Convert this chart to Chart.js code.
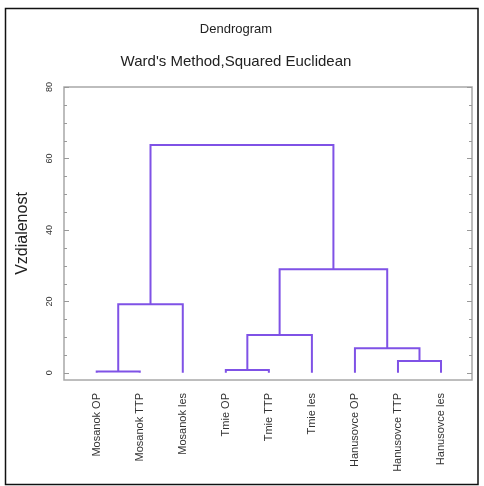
<!DOCTYPE html>
<html><head><meta charset="utf-8">
<script src="https://cdn.jsdelivr.net/npm/chart.js@4/dist/chart.umd.min.js"></script>
<style>html,body{margin:0;padding:0;background:#fff;} canvas{display:block;}</style>
</head><body>
<canvas id="c" width="484" height="486"></canvas>
<script>
const leaves = ['Mosanok OP','Mosanok TTP','Mosanok les','Tmie OP','Tmie TTP','Tmie les','Hanusovce OP','Hanusovce TTP','Hanusovce les'];
// merge steps: child node ids (0-8 leaves, 9+ = earlier merges in order) and joining distance
const mergeLeft   = [0,    3,   7,   6,   10,   9,    13,   14];
const mergeRight  = [1,    4,   8,   11,  5,    2,    12,   15];
const mergeHeight = [0.35, 0.8, 3.3, 6.9, 10.6, 19.2, 29.0, 63.8];
const yTickValues = [0, 20, 40, 60, 80];
const yMinorStep = 5;

const FONT = "'Liberation Sans', Arial, sans-serif";
const LINE = '#7f52e6';

const nodeX = leaves.map((_, i) => i + 1);
const nodeH = leaves.map(() => 0);
const datasets = mergeHeight.map((h, k) => {
  const a = mergeLeft[k], b = mergeRight[k];
  const xa = nodeX[a], xb = nodeX[b];
  const ds = {
    data: [{x: xa, y: nodeH[a]}, {x: xa, y: h}, {x: xb, y: h}, {x: xb, y: nodeH[b]}],
    showLine: true, borderColor: LINE, borderWidth: 2, pointRadius: 0, tension: 0, fill: false
  };
  nodeX.push((xa + xb) / 2); nodeH.push(h);
  return ds;
});

const framePlugin = {
  id: 'frame',
  beforeDraw(chart) {
    const ctx = chart.ctx;
    ctx.save();
    ctx.strokeStyle = '#111'; ctx.lineWidth = 1.5;
    ctx.strokeRect(5.5, 8.5, 472.5, 476);
    ctx.restore();
  },
  afterDatasetsDraw(chart) {
    const {ctx, chartArea: ca} = chart;
    const ys = chart.scales.y;
    ctx.save();
    ctx.strokeStyle = '#a8a8a8'; ctx.lineWidth = 1.5;
    ctx.strokeRect(ca.left, ca.top, ca.right - ca.left, ca.bottom - ca.top);
    ctx.lineWidth = 1; ctx.strokeStyle = '#999';
    for (let v = yTickValues[0]; v <= yTickValues[yTickValues.length - 1]; v += yMinorStep) {
      const p = Math.round(ys.getPixelForValue(v)) + 0.5;
      const len = yTickValues.includes(v) ? 5 : 3;
      ctx.beginPath();
      ctx.moveTo(ca.left, p); ctx.lineTo(ca.left + len, p);
      ctx.moveTo(ca.right, p); ctx.lineTo(ca.right - len, p);
      ctx.stroke();
    }
    ctx.fillStyle = '#333';
    ctx.font = '9px ' + FONT;
    ctx.textAlign = 'center'; ctx.textBaseline = 'middle';
    yTickValues.forEach(v => {
      const p = ys.getPixelForValue(v);
      ctx.save();
      ctx.translate(50, p);
      ctx.rotate(-Math.PI / 2);
      ctx.fillText(String(v), 0, 0);
      ctx.restore();
    });
    ctx.restore();
  }
};

new Chart(document.getElementById('c'), {
  type: 'scatter',
  data: { datasets },
  plugins: [framePlugin],
  options: {
    responsive: false, animation: false, devicePixelRatio: 1,
    layout: { padding: { left: 0, right: 12, top: 0, bottom: 0 } },
    plugins: {
      legend: { display: false },
      tooltip: { enabled: false },
      title: { display: true, text: 'Dendrogram', color: '#222',
        font: { family: FONT, size: 13, weight: 'normal', lineHeight: 1.2 },
        padding: { top: 22, bottom: 0 } },
      subtitle: { display: true, text: "Ward's Method,Squared Euclidean", color: '#222',
        font: { family: FONT, size: 15, weight: 'normal', lineHeight: 1.2 },
        padding: { top: 15, bottom: 16.4 } }
    },
    scales: {
      x: {
        type: 'linear', min: 0.24, max: 9.72,
        grid: { display: false }, border: { display: false },
        afterBuildTicks(scale) { scale.ticks = leaves.map((_, i) => ({ value: i + 1 })); },
        afterFit(scale) { scale.height = 106; },
        ticks: {
          autoSkip: false, minRotation: 90, maxRotation: 90, padding: 5,
          color: '#333', font: { family: FONT, size: 11 },
          callback: (v) => leaves[v - 1] ?? ''
        }
      },
      y: {
        type: 'linear', min: -2, max: 80,
        grid: { display: false }, border: { display: false },
        afterFit(scale) { scale.width = 64; },
        ticks: { display: false },
        title: { display: true, text: 'Vzdialenost', color: '#222',
          font: { family: FONT, size: 16, weight: 'normal', lineHeight: 1.2 },
          padding: { top: 13, bottom: 0 } }
      }
    }
  }
});
</script>
</body></html>
